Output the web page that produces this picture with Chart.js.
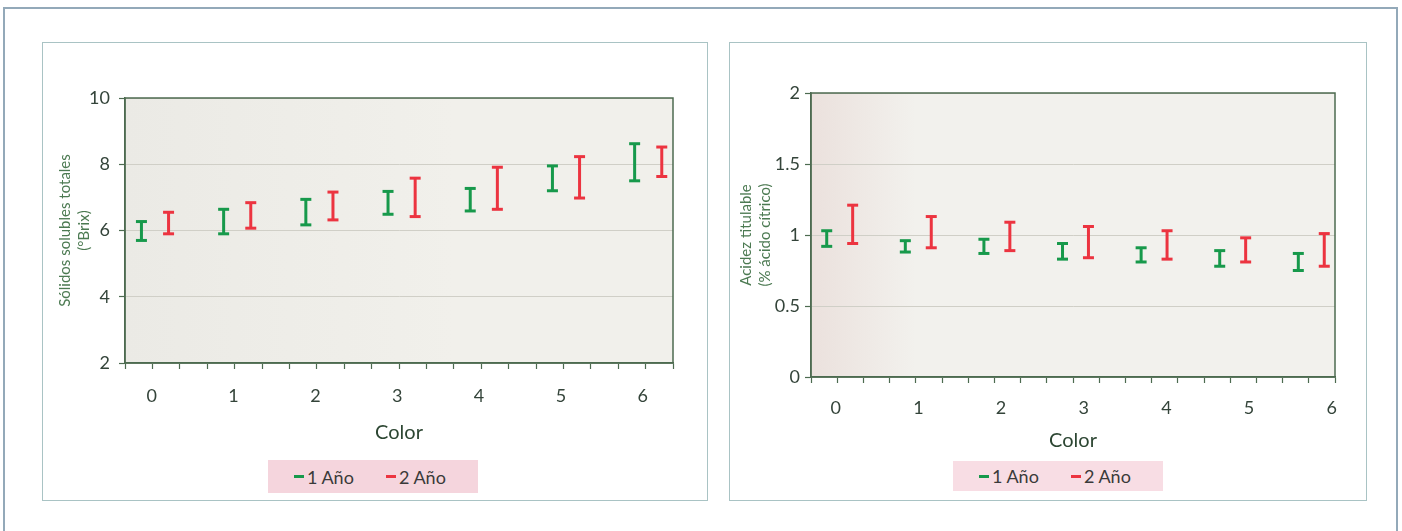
<!DOCTYPE html>
<html lang="es">
<head>
<meta charset="utf-8">
<title>Sólidos solubles y acidez titulable según color</title>
<script src="https://cdn.jsdelivr.net/npm/chart.js@4.4.1/dist/chart.umd.min.js"></script>
<style>
  html, body { margin: 0; padding: 0; background: #fff; }
  body { width: 1402px; height: 531px; position: relative; overflow: hidden; font-family: Lato, "Open Sans", sans-serif; }
  #marco { position: absolute; left: 3px; top: 7px; width: 1395px; height: 600px; border: 2px solid #93a9b9; box-sizing: border-box; }
  .panel { position: absolute; top: 42px; height: 459px; border: 1px solid #a9c3c4; box-sizing: border-box; }
  .panel canvas { position: absolute; left: -1px; top: -1px; }
  .leyenda { position: absolute; display: flex; align-items: center; box-sizing: border-box; padding-left: 26px; font-size: 18px; color: #3a3a3a; }
  .leyenda .item { display: flex; align-items: center; white-space: nowrap; }
  .leyenda i { display: inline-block; width: 10px; height: 3px; margin-right: 3px; }
</style>
</head>
<body>
<div id="marco"></div>

<div class="panel" style="left:42px; width:666px;">
  <canvas id="graficoSolidos" width="666" height="459"></canvas>
  <div class="leyenda" id="leyendaSolidos" style="left:225px; top:417px; width:210px; height:33px; background:#f5d5dd;"></div>
</div>

<div class="panel" style="left:729px; width:638px;">
  <canvas id="graficoAcidez" width="638" height="459"></canvas>
  <div class="leyenda" id="leyendaAcidez" style="left:223px; top:418px; width:210px; height:30px; background:#f8dde4;"></div>
</div>

<script>
// Categorías del eje X
const colores = ['0', '1', '2', '3', '4', '5', '6'];

// Sólidos solubles totales (°Brix): mínimo y máximo de cada barra
const solidos1Min = [5.70, 5.90, 6.17, 6.49, 6.59, 7.20, 7.50];
const solidos1Max = [6.27, 6.64, 6.94, 7.18, 7.27, 7.95, 8.62];
const solidos2Min = [5.90, 6.07, 6.32, 6.42, 6.64, 6.98, 7.63];
const solidos2Max = [6.55, 6.84, 7.16, 7.58, 7.91, 8.23, 8.52];

// Acidez titulable (% ácido cítrico)
const acidez1Min = [0.92, 0.88, 0.87, 0.83, 0.81, 0.78, 0.75];
const acidez1Max = [1.03, 0.96, 0.97, 0.94, 0.91, 0.89, 0.87];
const acidez2Min = [0.94, 0.91, 0.89, 0.84, 0.83, 0.81, 0.78];
const acidez2Max = [1.21, 1.13, 1.09, 1.06, 1.03, 0.98, 1.01];

const VERDE = '#17994b';
const ROJO = '#ec3440';
const COLOR_EJE = '#4d6b50';
const COLOR_TEXTO = '#34443a';

// marcas del eje X cada tercio de categoría
const marcasX = Array.from({ length: 21 }, (_, k) => k / 3);

// convierte mínimos/máximos en segmentos verticales separados por huecos
function barrasError(minimos, maximos, desplazamiento) {
    const puntos = [];
    minimos.forEach((min, i) => {
        puntos.push({ x: i + desplazamiento, y: min });
        puntos.push({ x: i + desplazamiento, y: maximos[i] });
        puntos.push({ x: i + desplazamiento, y: null });
    });
    return puntos;
}

function serie(label, color, datos) {
    return {
        label: label,
        data: datos,
        showLine: true,
        spanGaps: false,
        borderColor: color,
        backgroundColor: color,
        borderWidth: 3,
        pointStyle: 'line',
        pointRadius: 5.5,
        pointHoverRadius: 5.5,
        pointBorderWidth: 3,
        pointBorderColor: color
    };
}

// fondo del área de trazado y marco
const fondoArea = {
    id: 'fondoArea',
    beforeDraw(chart, args, opts) {
        const { ctx, chartArea: a } = chart;
        const g = ctx.createLinearGradient(a.left, 0, a.right, 0);
        g.addColorStop(0, opts.desde);
        g.addColorStop(opts.corte, opts.hasta);
        g.addColorStop(1, opts.hasta);
        ctx.save();
        ctx.fillStyle = g;
        ctx.fillRect(a.left, a.top, a.width, a.height);
        ctx.restore();
    },
    afterDraw(chart) {
        const { ctx, chartArea: a } = chart;
        ctx.save();
        ctx.strokeStyle = COLOR_EJE;
        ctx.lineWidth = 1.5;
        ctx.strokeRect(a.left, a.top, a.width, a.height);
        ctx.restore();
    }
};

function crearGrafico(id, cfg) {
    return new Chart(document.getElementById(id), {
        type: 'scatter',
        data: {
            datasets: [
                serie('1 Año', VERDE, barrasError(cfg.min1, cfg.max1, 0.2)),
                serie('2 Año', ROJO, barrasError(cfg.min2, cfg.max2, 0.53))
            ]
        },
        plugins: [fondoArea],
        options: {
            responsive: false,
            animation: false,
            events: [],
            layout: { padding: cfg.padding },
            plugins: {
                legend: { display: false },
                tooltip: { enabled: false },
                fondoArea: { desde: cfg.fondoDesde, hasta: cfg.fondoHasta, corte: cfg.corte }
            },
            scales: {
                x: {
                    type: 'linear',
                    min: 0,
                    max: 20 / 3,
                    weight: 0,
                    afterBuildTicks: s => { s.ticks = marcasX.map(v => ({ value: v })); },
                    afterFit: s => { s.height = 6; },
                    ticks: { display: false },
                    grid: { drawOnChartArea: false, tickLength: 6, tickColor: COLOR_EJE, tickWidth: 1.2 },
                    border: { color: COLOR_EJE, width: 1.5 }
                },
                xl: {
                    type: 'linear',
                    axis: 'x',
                    position: 'bottom',
                    weight: 1,
                    min: cfg.etiquetasMin,
                    max: cfg.etiquetasMax,
                    afterBuildTicks: s => { s.ticks = colores.map((c, i) => ({ value: i })); },
                    afterFit: s => { s.height = cfg.altoEtiquetas; },
                    grid: { display: false, drawTicks: false },
                    border: { display: false },
                    ticks: {
                        padding: cfg.padEtiquetas,
                        color: COLOR_TEXTO,
                        font: { family: 'Lato', size: 18 },
                        maxRotation: 0,
                        autoSkip: false,
                        callback: (v, i) => colores[i]
                    },
                    title: {
                        display: true,
                        text: 'Color',
                        color: '#2c4632',
                        font: { family: 'Lato', size: 20 },
                        padding: { top: 0, bottom: cfg.padTitulo }
                    }
                },
                y: {
                    min: cfg.yMin,
                    max: cfg.yMax,
                    afterFit: s => { s.width = cfg.anchoY; },
                    ticks: {
                        stepSize: cfg.paso,
                        padding: cfg.padTicksY,
                        color: COLOR_TEXTO,
                        font: { family: 'Lato', size: 18 },
                        callback: v => String(v)
                    },
                    grid: { color: '#d0cfc7', lineWidth: 1, tickColor: COLOR_EJE, tickLength: 6, tickWidth: 1.2 },
                    border: { color: COLOR_EJE, width: 1.5 },
                    title: {
                        display: true,
                        text: cfg.tituloY,
                        color: '#4c7a52',
                        font: { family: 'Lato', size: 15, lineHeight: 1.27 },
                        padding: { top: cfg.padTituloY, bottom: 0 }
                    }
                }
            }
        }
    });
}

// leyenda en HTML con fondo rosado
function crearLeyenda(chart, idContenedor, anchoItem) {
    const cont = document.getElementById(idContenedor);
    chart.data.datasets.forEach(ds => {
        const item = document.createElement('span');
        item.className = 'item';
        item.style.width = anchoItem + 'px';
        const marca = document.createElement('i');
        marca.style.background = ds.borderColor;
        item.appendChild(marca);
        item.appendChild(document.createTextNode(ds.label));
        cont.appendChild(item);
    });
}

const graficoSolidos = crearGrafico('graficoSolidos', {
    min1: solidos1Min, max1: solidos1Max, min2: solidos2Min, max2: solidos2Max,
    padding: { top: 56, right: 35, bottom: 41, left: 0 },
    yMin: 2, yMax: 10, paso: 2, anchoY: 83, padTicksY: 9,
    tituloY: ['Sólidos solubles totales', '(°Brix)'], padTituloY: 13.5,
    etiquetasMin: -0.326, etiquetasMax: 6.369,
    altoEtiquetas: 91, padEtiquetas: 16, padTitulo: 15,
    fondoDesde: '#ebeae5', fondoHasta: '#f1f0eb', corte: 0.6
});

const graficoAcidez = crearGrafico('graficoAcidez', {
    min1: acidez1Min, max1: acidez1Max, min2: acidez2Min, max2: acidez2Max,
    padding: { top: 51, right: 32, bottom: 40, left: 0 },
    yMin: 0, yMax: 2, paso: 0.5, anchoY: 82, padTicksY: 5,
    tituloY: ['Acidez titulable', '(% ácido cítrico)'], padTituloY: 7.5,
    etiquetasMin: -0.299, etiquetasMax: 6.04,
    altoEtiquetas: 78, padEtiquetas: 14, padTitulo: 8.6,
    fondoDesde: '#ebe1dd', fondoHasta: '#f2f1ed', corte: 0.2
});

crearLeyenda(graficoSolidos, 'leyendaSolidos', 100);
crearLeyenda(graficoAcidez, 'leyendaAcidez', 104);
</script>
</body>
</html>
